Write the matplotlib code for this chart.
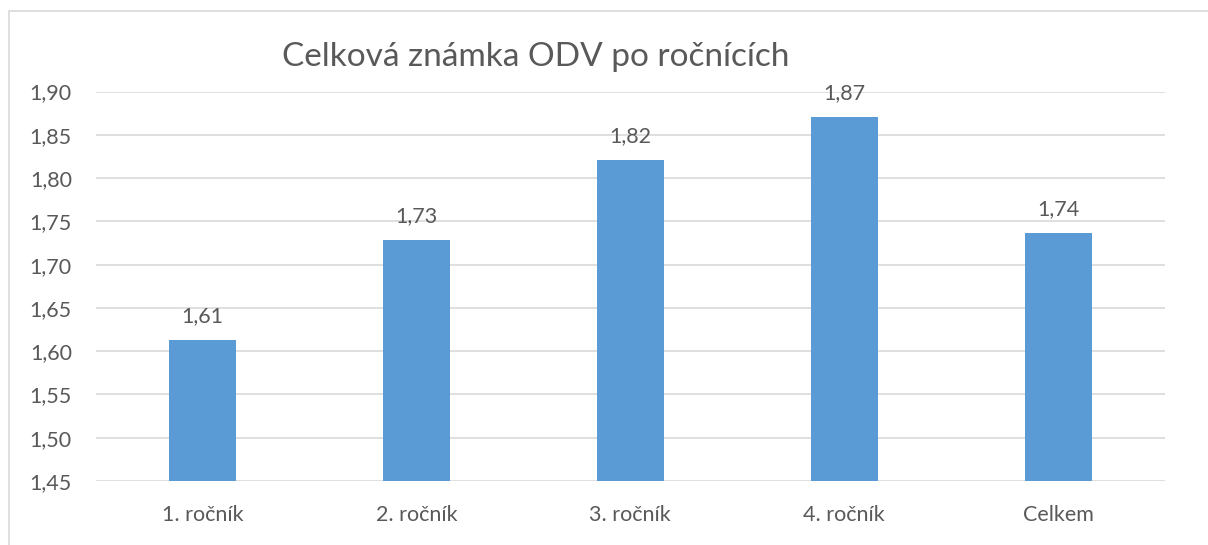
import numpy as np
import matplotlib
matplotlib.use("Agg")
from matplotlib import pyplot as plt
from matplotlib.patches import Rectangle

plt.rcParams['font.family'] = ['Lato', 'DejaVu Sans']

categories = ["1. ročník", "2. ročník", "3. ročník", "4. ročník", "Celkem"]
values = [1.613, 1.729, 1.821, 1.870, 1.736]
yticks = [1.45, 1.50, 1.55, 1.60, 1.65, 1.70, 1.75, 1.80, 1.85, 1.90]
title = "Celková známka ODV po ročnících"

txtcol = "#595959"
barcol = "#5B9BD5"
gridcol = "#D9D9D9"

W, H = 1208, 545
fig = plt.figure(figsize=(W/100, H/100), dpi=100)

# outer chart border (only top and left edges visible in the crop)
fig.patches.append(Rectangle((9/W, -0.1), 1.2, 1 - 11/H + 0.1, transform=fig.transFigure,
                             fill=False, edgecolor=gridcol, linewidth=1.2))

ax = fig.add_axes([95.5/W, 1 - 481/H, (1165-95.5)/W, (481-91.5)/H])
x = np.arange(len(categories))
bars = ax.bar(x, values, width=0.313, color=barcol, zorder=3)

ax.set_xlim(-0.5, len(categories) - 0.5)
ax.set_ylim(1.45, 1.90)
ax.set_yticks(yticks)
ax.set_yticklabels([f"{t:.2f}".replace('.', ',') for t in yticks])
ax.set_xticks(x)
ax.set_xticklabels(categories)
ax.tick_params(axis='y', length=0, pad=17, labelsize=15.5, labelcolor=txtcol)
ax.tick_params(axis='x', length=0, pad=17, labelsize=15.5, labelcolor=txtcol)
for s in ax.spines.values():
    s.set_visible(False)
ax.grid(axis='y', color=gridcol, linewidth=1.2, zorder=0)
ax.set_axisbelow(True)

for xi, v in zip(x, values):
    ax.annotate(f"{v:.2f}".replace('.', ','), (xi, v), xytext=(0, 10), textcoords='offset points',
                ha='center', va='bottom', fontsize=15.5, color=txtcol)

fig.text(536/W, 1 - 57/H, title, ha='center', va='center', fontsize=24, color=txtcol)

fig.savefig("out.png", dpi=100)
